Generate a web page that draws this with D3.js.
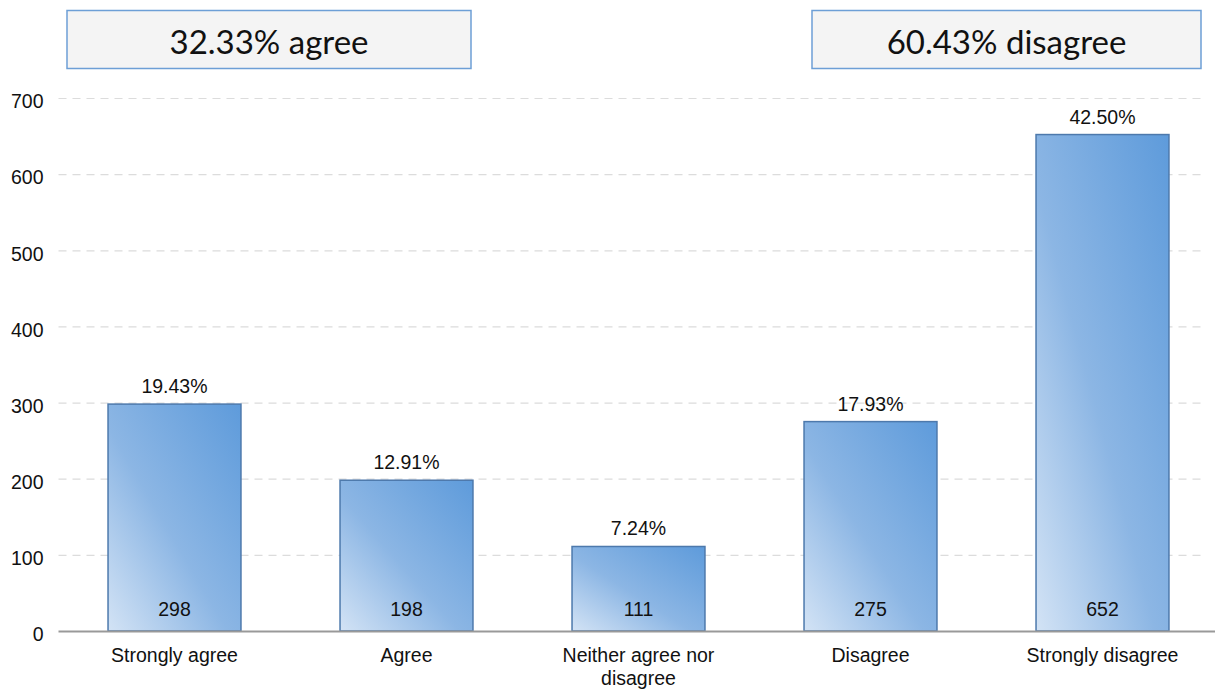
<!DOCTYPE html>
<html>
<head>
<meta charset="utf-8">
<script src="https://cdn.jsdelivr.net/npm/d3@7"></script>
<style>
  html, body { margin: 0; padding: 0; background: #fff; }
  svg { display: block; font-family: "Liberation Sans", Arial, sans-serif; }
  .tick text { font-size: 19.5px; fill: #111; }
</style>
</head>
<body>
<div id="chart"></div>
<script>
// ---- Data -------------------------------------------------------------
const categories = ['Strongly agree', 'Agree', 'Neither agree nor disagree', 'Disagree', 'Strongly disagree'];
const counts = [298, 198, 111, 275, 652];
const percents = ['19.43%', '12.91%', '7.24%', '17.93%', '42.50%'];
const yTicks = [0, 100, 200, 300, 400, 500, 600, 700];
const summaries = ['32.33% agree', '60.43% disagree'];

// ---- Dimensions -------------------------------------------------------
const width = 1215, height = 689;
const plot = { left: 58.5, right: 1218.5, top: 98, bottom: 631, gridEnd: 1205 };
const labelSize = 19.5;

const svg = d3.select('#chart').append('svg')
  .attr('width', width)
  .attr('height', height);

// ---- Scales -----------------------------------------------------------
const x = d3.scaleBand()
  .domain(categories)
  .range([plot.left, plot.right])
  .paddingInner(0.427)
  .paddingOuter(0.2135);

const y = d3.scaleLinear()
  .domain([0, 700])
  .range([plot.bottom, plot.top]);

// ---- Gradient ---------------------------------------------------------
const grad = svg.append('defs').append('linearGradient')
  .attr('id', 'barGrad')
  .attr('x1', '0%').attr('y1', '100%')
  .attr('x2', '100%').attr('y2', '0%');
grad.append('stop').attr('offset', '0%').attr('stop-color', '#d3e3f5');
grad.append('stop').attr('offset', '45%').attr('stop-color', '#8cb6e4');
grad.append('stop').attr('offset', '100%').attr('stop-color', '#5e9bdb');

// ---- Grid + y axis ----------------------------------------------------
const yAxis = d3.axisLeft(y).tickValues(yTicks).tickSize(0).tickPadding(15);
const yg = svg.append('g')
  .attr('transform', `translate(${plot.left},0)`)
  .call(yAxis);
yg.select('.domain').remove();
yg.selectAll('.tick text').attr('dy', '0.5em');

svg.append('g')
  .selectAll('line')
  .data(yTicks.filter(d => d > 0))
  .join('line')
  .attr('x1', plot.left)
  .attr('x2', plot.gridEnd)
  .attr('y1', d => y(d) + 0.5)
  .attr('y2', d => y(d) + 0.5)
  .attr('stroke', '#dcdcdc')
  .attr('stroke-width', 1.2)
  .attr('stroke-dasharray', '8,6');

// ---- Bars -------------------------------------------------------------
const bars = svg.append('g')
  .selectAll('g')
  .data(categories)
  .join('g');

bars.append('rect')
  .attr('x', d => x(d))
  .attr('y', (d, i) => y(counts[i]))
  .attr('width', x.bandwidth())
  .attr('height', (d, i) => y(0) - y(counts[i]))
  .attr('fill', 'url(#barGrad)')
  .attr('stroke', '#4d79ac')
  .attr('stroke-width', 1.5);

bars.append('text')
  .attr('x', d => x(d) + x.bandwidth() / 2)
  .attr('y', (d, i) => y(counts[i]) - 11)
  .attr('text-anchor', 'middle')
  .attr('font-size', labelSize)
  .attr('fill', '#111')
  .text((d, i) => percents[i]);

bars.append('text')
  .attr('x', d => x(d) + x.bandwidth() / 2)
  .attr('y', y(0) - 15)
  .attr('text-anchor', 'middle')
  .attr('font-size', labelSize)
  .attr('fill', '#111')
  .text((d, i) => counts[i]);

// ---- Baseline + x labels ----------------------------------------------
svg.append('line')
  .attr('x1', plot.left).attr('x2', width)
  .attr('y1', y(0) + 0.5).attr('y2', y(0) + 0.5)
  .attr('stroke', '#999')
  .attr('stroke-width', 2);

const xLabels = svg.append('g')
  .selectAll('text')
  .data(categories)
  .join('text')
  .attr('x', d => x(d) + x.bandwidth() / 2)
  .attr('y', 662)
  .attr('text-anchor', 'middle')
  .attr('font-size', labelSize)
  .attr('fill', '#111');

xLabels.each(function (d) {
  const t = d3.select(this);
  const lines = d === 'Neither agree nor disagree' ? ['Neither agree nor', 'disagree'] : [d];
  lines.forEach((l, i) => {
    t.append('tspan')
      .attr('x', x(d) + x.bandwidth() / 2)
      .attr('dy', i === 0 ? 0 : 23)
      .text(l);
  });
});

// ---- Summary boxes ----------------------------------------------------
const boxes = [
  { x0: 67, x1: 471 },
  { x0: 812, x1: 1201 }
];
summaries.forEach((s, i) => {
  const b = boxes[i];
  svg.append('rect')
    .attr('x', b.x0).attr('y', 10.5)
    .attr('width', b.x1 - b.x0).attr('height', 58)
    .attr('fill', '#f4f4f4')
    .attr('stroke', '#6d9fd6')
    .attr('stroke-width', 1.5);
  svg.append('text')
    .attr('x', (b.x0 + b.x1) / 2)
    .attr('y', 54)
    .attr('text-anchor', 'middle')
    .attr('font-family', 'Lato, "Open Sans", sans-serif')
    .attr('font-size', 33)
    .attr('fill', '#111')
    .text(s);
});
</script>
</body>
</html>
